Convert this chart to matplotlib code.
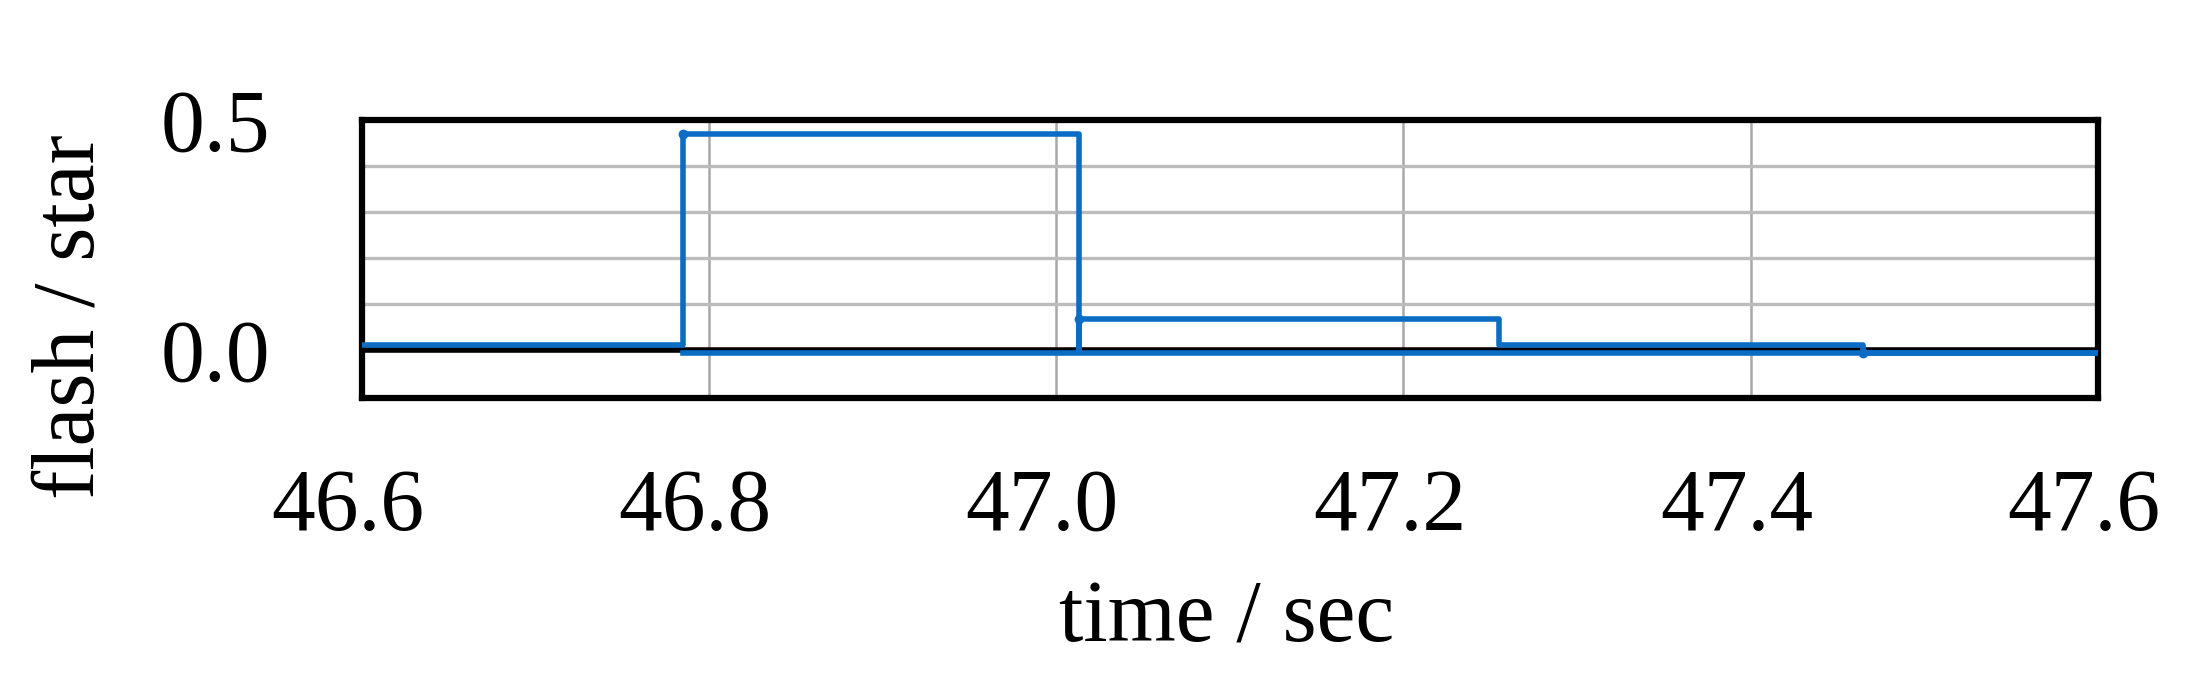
import matplotlib.pyplot as plt
import matplotlib.transforms as mtransforms

plt.rcParams['font.family'] = ['Liberation Serif', 'DejaVu Serif']

# flash signal (step trace)
t = [46.6, 46.785, 46.785, 47.013, 47.013, 47.013, 47.255, 47.255, 47.465, 47.465, 47.6]
flash = [0.01, 0.01, 0.47, 0.47, 0.0, 0.066, 0.066, 0.01, 0.01, -0.007, -0.007]

# baseline under the pulses
t_base = [46.785, 47.6]
base = [-0.007, -0.007]

# little dots at segment starts
t_dot = [46.785, 47.013, 47.465]
dot = [0.47, 0.066, -0.007]

xticks = [46.6, 46.8, 47.0, 47.2, 47.4, 47.6]
yticks = [0.0, 0.5]

blue = '#0a6cc4'
fs = 63

fig = plt.figure(figsize=(22.08, 6.96), dpi=100)
ax = fig.add_axes([0.164, 0.428, 0.786, 0.400])

ax.plot(t, flash, color=blue, lw=4.0, zorder=3)
ax.plot(t_base, base, color=blue, lw=4.0, zorder=3)
ax.plot(t_dot, dot, 'o', color=blue, ms=6, zorder=4)
ax.axhline(0, color='black', lw=4.0, zorder=2)

ax.set_xlim(46.6, 47.6)
ax.set_ylim(-0.105, 0.5)
ax.set_xticks(xticks)
ax.set_xticklabels([f'{v:.1f}' for v in xticks])
ax.set_yticks(yticks)
ax.set_yticklabels([f'{v:.1f}' for v in yticks])
ax.set_yticks([0.1, 0.2, 0.3, 0.4], minor=True)

ax.grid(True, which='major', axis='x', color='#a8a8a8', lw=1.8)
ax.grid(True, which='both', axis='y', color='#bcbcbc', lw=2.4)
ax.set_axisbelow(True)

ax.tick_params(axis='both', which='both', length=0, labelsize=fs)
ax.tick_params(axis='x', pad=50)
ax.tick_params(axis='y', pad=66)

# x tick labels sit a bit left of their gridlines in the original
shift = mtransforms.ScaledTranslation(-0.14, 0, fig.dpi_scale_trans)
for lab in ax.get_xticklabels():
    lab.set_transform(lab.get_transform() + shift)

for s in ax.spines.values():
    s.set_linewidth(4.5)
    s.set_color('black')

ax.set_xlabel('time / sec', fontsize=fs)
ax.xaxis.set_label_coords(0.498, -0.65)
ax.set_ylabel('flash / star', fontsize=fs)
ax.yaxis.set_label_coords(-0.144, 0.293)

fig.savefig('out.png', dpi=100)
